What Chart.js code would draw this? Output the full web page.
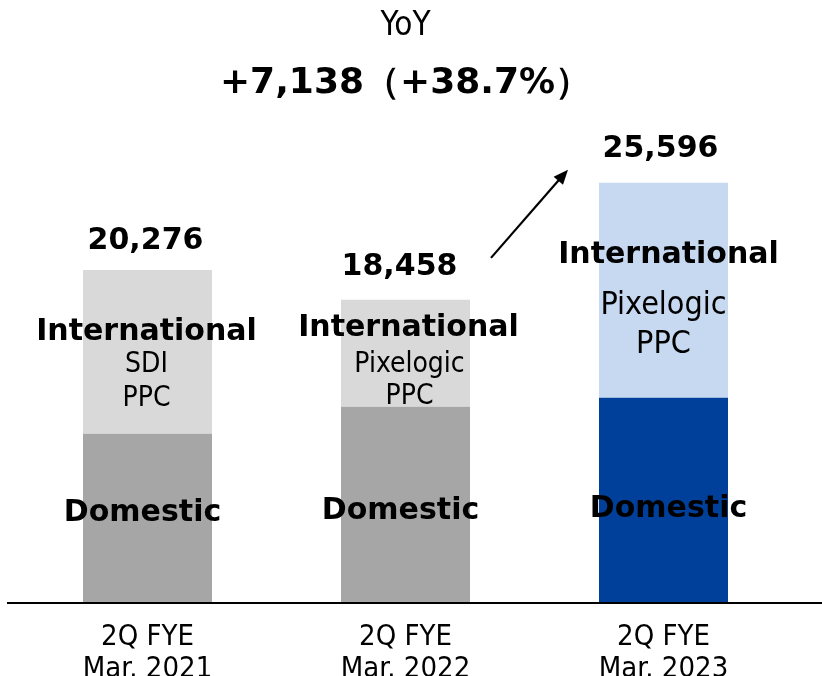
<!DOCTYPE html>
<html>
<head>
<meta charset="utf-8">
<script src="https://cdn.jsdelivr.net/npm/chart.js@4"></script>
<style>
  html, body { margin: 0; padding: 0; background: #fff; }
  #wrap { width: 822px; height: 676px; }
</style>
</head>
<body>
<div id="wrap"><canvas id="salesChart"></canvas></div>
<script>
// データ
const categories = [['2Q FYE', 'Mar. 2021'], ['2Q FYE', 'Mar. 2022'], ['2Q FYE', 'Mar. 2023']];
const totals = [20276, 18458, 25596];
const domestic = [10310, 11950, 12500];
const international = [9966, 6508, 13096];
const intlSubLabels = [['SDI', 'PPC'], ['Pixelogic', 'PPC'], ['Pixelogic', 'PPC']];
const yoyTitle = 'YoY';
const yoyValue = '+7,138\uFF08+38.7%\uFF09';

const domesticColors = ['#A6A6A6', '#A6A6A6', '#00409A'];
const intlColors = ['#D9D9D9', '#D9D9D9', '#C6D9F0'];

const FONT = '"DejaVu Sans", Verdana, sans-serif';
const FONT_N = '"DejaVu Sans Condensed", "DejaVu Sans", sans-serif';

// label offsets (px) per bar
const labelStyle = [
    { vdy: -29, vdx: -2, tdy: -20, tdx: -1, sub: [13, 47], sdx: -1, subSize: 28, ddy: -5, ddx: -5 },
    { vdy: -33, vdx: -6, tdy: -25, tdx: 3, sub: [11, 43], sdx: 4, subSize: 28, ddy: 6, ddx: -5 },
    { vdy: -33, vdx: -3, tdy: -35, tdx: 5, sub: [16, 55], sdx: 0, subSize: 32, ddy: 9, ddx: 5 }
];

const barLabels = {
    id: 'barLabels',
    afterDatasetsDraw(chart) {
        const ctx = chart.ctx;
        const dom = chart.getDatasetMeta(0).data;
        const intl = chart.getDatasetMeta(1).data;
        const y0 = chart.scales.y.getPixelForValue(0);

        ctx.save();
        // baseline
        ctx.strokeStyle = '#000';
        ctx.lineWidth = 2;
        ctx.beginPath();
        ctx.moveTo(7, y0);
        ctx.lineTo(chart.width, y0);
        ctx.stroke();

        ctx.textAlign = 'center';
        ctx.textBaseline = 'middle';
        ctx.fillStyle = '#000';

        totals.forEach((t, i) => {
            const s = labelStyle[i];
            const d = dom[i], n = intl[i];
            // total
            ctx.font = 'bold 30px ' + FONT;
            ctx.fillText(t.toLocaleString('en-US'), d.x + s.vdx, n.y + s.vdy);
            // international
            const mid = (n.y + n.base) / 2;
            ctx.font = 'bold 30px ' + FONT;
            ctx.fillText('International', n.x + s.tdx, mid + s.tdy);
            ctx.font = s.subSize + 'px ' + FONT_N;
            intlSubLabels[i].forEach((txt, k) => {
                ctx.fillText(txt, n.x + s.sdx, mid + s.sub[k]);
            });
            // domestic
            const dmid = (d.y + d.base) / 2;
            ctx.font = 'bold 30px ' + FONT;
            ctx.fillText('Domestic', d.x + s.ddx, dmid + s.ddy);
        });

        // arrow
        const b2 = intl[1], b3 = intl[2];
        const x1 = b2.x + b2.width / 2 + 21, y1 = b2.y - 42;
        const x2 = b3.x - b3.width / 2 - 31, y2 = b3.y - 13;
        const ang = Math.atan2(y2 - y1, x2 - x1);
        const head = 16;
        ctx.lineWidth = 2.2;
        ctx.beginPath();
        ctx.moveTo(x1, y1);
        ctx.lineTo(x2 - Math.cos(ang) * head * 0.7, y2 - Math.sin(ang) * head * 0.7);
        ctx.stroke();
        ctx.beginPath();
        ctx.moveTo(x2, y2);
        ctx.lineTo(x2 - head * Math.cos(ang - 0.4), y2 - head * Math.sin(ang - 0.4));
        ctx.lineTo(x2 - head * Math.cos(ang + 0.4), y2 - head * Math.sin(ang + 0.4));
        ctx.closePath();
        ctx.fill();
        ctx.restore();
    }
};

new Chart(document.getElementById('salesChart'), {
    type: 'bar',
    data: {
        labels: categories,
        datasets: [
            { label: 'Domestic', data: domestic, backgroundColor: domesticColors, borderWidth: 0 },
            { label: 'International', data: international, backgroundColor: intlColors, borderWidth: 0 }
        ]
    },
    options: {
        responsive: true,
        maintainAspectRatio: false,
        animation: false,
        layout: { padding: { left: 18.5, right: 29.5, top: 0, bottom: 0 } },
        datasets: { bar: { categoryPercentage: 1, barPercentage: 0.5 } },
        scales: {
            x: {
                stacked: true,
                grid: { display: false },
                border: { display: false },
                afterFit(axis) { axis.height = 73; },
                ticks: {
                    color: '#000',
                    padding: 10,
                    font: { family: FONT_N, size: 29, lineHeight: 1.12 }
                }
            },
            y: {
                stacked: true,
                display: false,
                min: 0,
                max: 30000
            }
        },
        plugins: {
            legend: { display: false },
            tooltip: { enabled: false },
            title: {
                display: true,
                text: yoyTitle,
                color: '#000',
                padding: { top: 7, bottom: 0 },
                font: { family: FONT_N, size: 33, weight: 'normal', lineHeight: 1.2 }
            },
            subtitle: {
                display: true,
                text: yoyValue,
                color: '#000',
                padding: { top: 15, bottom: 5.5 },
                font: { family: FONT, size: 36, weight: 'bold', lineHeight: 1.2 }
            }
        }
    },
    plugins: [barLabels]
});
</script>
</body>
</html>
